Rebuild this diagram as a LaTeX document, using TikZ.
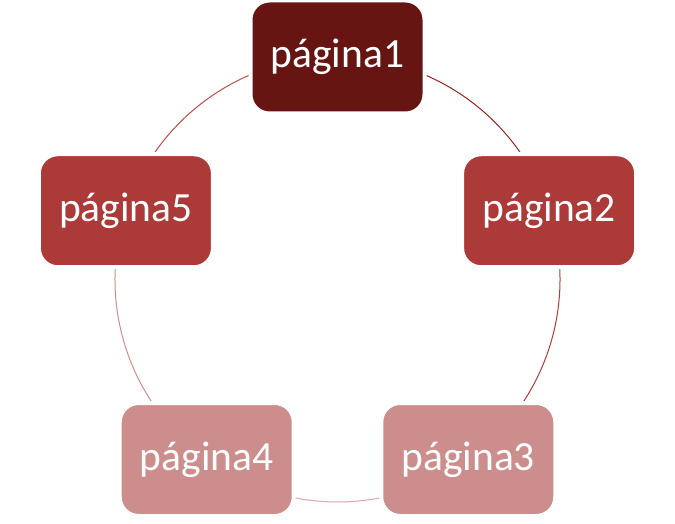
\documentclass[tikz,border=0pt]{standalone}
\usepackage{fontspec}
\setmainfont{Carlito}
\usetikzlibrary{backgrounds}
\definecolor{cA}{RGB}{102,21,19}
\definecolor{cB}{RGB}{171,58,56}
\definecolor{cC}{RGB}{204,142,141}
\definecolor{l12}{RGB}{155,35,33}
\definecolor{l23}{RGB}{180,58,56}
\definecolor{l34}{RGB}{218,168,167}
\definecolor{l45}{RGB}{210,140,139}
\definecolor{l51}{RGB}{192,75,73}
\begin{document}
\begin{tikzpicture}[x=1pt,y=1pt,
  pagebox/.style={rounded corners=19pt, minimum width=174pt, minimum height=113pt,
    draw=white, line width=4pt, text=white, font=\fontsize{41.5}{48}\selectfont, inner sep=0pt},
  ring/.style={line width=1pt}]
\useasboundingbox (0,0) rectangle (675,524);
\coordinate (O) at (337.5,244.5);
\node[pagebox, fill=cA] (p1) at ([shift={(90:222.5)}]O) {página1};
\node[pagebox, fill=cB] (p2) at ([shift={(18:222.5)}]O) {página2};
\node[pagebox, fill=cC] (p3) at ([shift={(-54:222.5)}]O) {página3};
\node[pagebox, fill=cC] (p4) at ([shift={(-126:222.5)}]O) {página4};
\node[pagebox, fill=cB] (p5) at ([shift={(162:222.5)}]O) {página5};
\begin{scope}[on background layer]
\draw[ring,l12] (p1.center) arc[start angle=90,end angle=18,radius=222.5];
\draw[ring,l23] (p2.center) arc[start angle=18,end angle=-54,radius=222.5];
\draw[ring,l34] (p3.center) arc[start angle=-54,end angle=-126,radius=222.5];
\draw[ring,l45] (p4.center) arc[start angle=-126,end angle=-198,radius=222.5];
\draw[ring,l51] (p5.center) arc[start angle=162,end angle=90,radius=222.5];
\end{scope}
\end{tikzpicture}
\end{document}
